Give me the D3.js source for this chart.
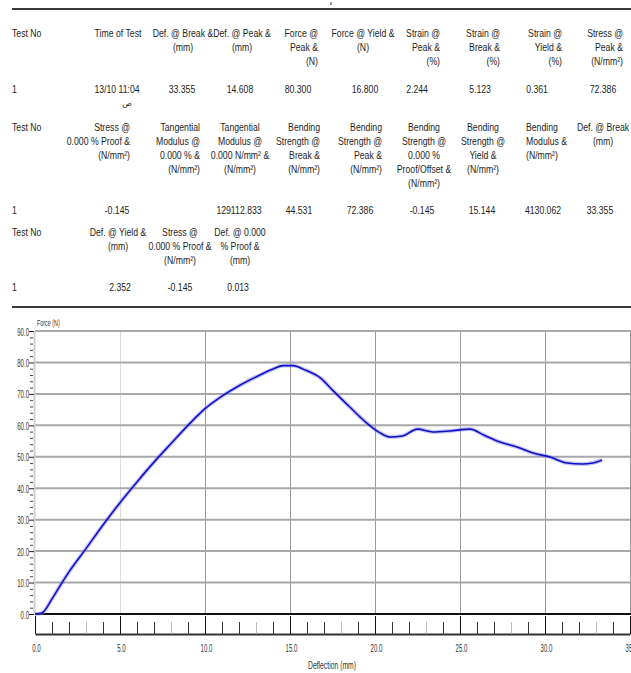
<!DOCTYPE html>
<html>
<head>
<meta charset="utf-8">
<script src="https://cdn.jsdelivr.net/npm/d3@7"></script>
<style>
body { margin: 0; background: #fff; }
text { font-family: "Liberation Sans", Arial, sans-serif; fill: #1e1e1e; }
</style>
</head>
<body>
<div id="chart"></div>
<script>
// results table, three blocks of header lines + one value row each
var block1Headers = [["Test No"], ["Time of Test"], ["Def. @ Break &", "(mm)"], ["Def. @ Peak &", "(mm)"],
  ["Force @", "Peak &", "(N)"], ["Force @ Yield &", "(N)"], ["Strain @", "Peak &", "(%)"],
  ["Strain @", "Break &", "(%)"], ["Strain @", "Yield &", "(%)"], ["Stress @", "Peak &", "(N/mm²)"]]
var block1Values = ["1", "13/10 11:04", "33.355", "14.608", "80.300", "16.800", "2.244", "5.123", "0.361", "72.386"]
var timeSuffix = "ص"

var block2Headers = [["Test No"], ["Stress @", "0.000 % Proof &", "(N/mm²)"], ["Tangential", "Modulus @", "0.000 % &", "(N/mm²)"],
  ["Tangential", "Modulus @", "0.000 N/mm² &", "(N/mm²)"], ["Bending", "Strength @", "Break &", "(N/mm²)"],
  ["Bending", "Strength @", "Peak &", "(N/mm²)"], ["Bending", "Strength @", "0.000 %", "Proof/Offset &", "(N/mm²)"],
  ["Bending", "Strength @", "Yield &", "(N/mm²)"], ["Bending", "Modulus &", "(N/mm²)"], ["Def. @ Break", "(mm)"]]
var block2Values = ["1", "-0.145", "", "129112.833", "44.531", "72.386", "-0.145", "15.144", "4130.062", "33.355"]

var block3Headers = [["Test No"], ["Def. @ Yield &", "(mm)"], ["Stress @", "0.000 % Proof &", "(N/mm²)"], ["Def. @ 0.000", "% Proof &", "(mm)"]]
var block3Values = ["1", "2.352", "-0.145", "0.013"]

// force / deflection curve
var deflection = [0, 0.4, 1.0, 1.5, 2.0, 3.0, 4.0, 5.0, 6.0, 7.0, 8.0, 9.0, 10.0, 11.0, 12.0, 13.0, 14.0, 14.6, 15.2, 15.8,
  16.8, 17.5, 18.5, 19.5, 20.3, 20.9, 21.6, 22.5, 23.4, 24.4, 25.6, 26.4, 27.35, 28.35, 29.3, 30.3, 31.3, 32.2, 32.8, 33.355]
var force = [0, 0.3, 4.8, 9.2, 13.4, 20.8, 28.3, 35.4, 42.0, 48.3, 54.2, 60.0, 65.3, 69.3, 72.6, 75.4, 77.9, 79.0, 79.0, 77.8,
  75.0, 71.2, 65.9, 60.8, 57.6, 56.3, 56.6, 58.8, 57.9, 58.2, 58.8, 56.9, 54.7, 53.1, 51.2, 49.9, 48.0, 47.7, 48.0, 49.0]

var xTicks = [0, 5, 10, 15, 20, 25, 30, 35]
var yTicks = [0, 10, 20, 30, 40, 50, 60, 70, 80, 90]

// layout
var width = 631, height = 673
var squeeze = 0.79
var layout1 = { y: 37, valueY: 93, cols: [[12, "start"], [118, "middle"], [183, "middle"], [242, "middle"], [318, "end"],
  [363, "middle"], [440, "end"], [500, "end"], [562, "end"], [623, "end"]],
  vals: [12, 117, 182, 240, 298, 365, 417, 480, 537, 603] }
var layout2 = { y: 131, valueY: 214, cols: [[12, "start"], [130, "end"], [200, "end"], [240, "middle"], [320, "end"],
  [382, "end"], [424, "middle"], [483, "middle"], [526, "start"], [603, "middle"]],
  vals: [12, 117, 0, 239, 299, 360, 422, 482, 543, 600] }
var layout3 = { y: 236, valueY: 291, cols: [[12, "start"], [118, "middle"], [180, "middle"], [240, "middle"]],
  vals: [12, 120, 180, 238] }

var svg = d3.select("#chart").append("svg")
  .attr("width", width)
  .attr("height", height)

// narrow text: scale horizontally around the anchor point
function narrowText(parent, x, y, anchor) {
  return parent.append("text")
    .attr("transform", "translate(" + x + "," + y + ") scale(" + squeeze + ",1)")
    .attr("text-anchor", anchor)
    .style("font-size", "11px")
}

function drawBlock(headers, values, lay) {
  var g = svg.append("g").attr("class", "block")
  headers.forEach(function(lines, i) {
    var t = narrowText(g, lay.cols[i][0], lay.y, lay.cols[i][1])
    lines.forEach(function(line, k) {
      t.append("tspan").attr("x", 0).attr("y", k * 14).text(line)
    })
  })
  values.forEach(function(v, i) {
    narrowText(g, lay.vals[i], lay.valueY, i == 0 ? "start" : "middle").text(v)
  })
  return g
}

drawBlock(block1Headers, block1Values, layout1)
  .append("text")
    .attr("x", 127).attr("y", 106)
    .attr("text-anchor", "middle")
    .style("font-size", "8px")
    .style("font-family", "'DejaVu Sans', sans-serif")
    .text(timeSuffix)
drawBlock(block2Headers, block2Values, layout2)
drawBlock(block3Headers, block3Values, layout3)

// page rules
svg.append("line").attr("x1", 12).attr("x2", width).attr("y1", 9).attr("y2", 9)
  .attr("stroke", "#3a3a3a").attr("stroke-width", 2)
svg.append("line").attr("x1", 12).attr("x2", width).attr("y1", 307).attr("y2", 307)
  .attr("stroke", "#3a3a3a").attr("stroke-width", 2)
svg.append("line").attr("x1", 331).attr("x2", 331).attr("y1", 2).attr("y2", 5)
  .attr("stroke", "#333").attr("stroke-width", 1)

// chart
var x = d3.scaleLinear().domain([0, 35]).range([35, 630])
var y = d3.scaleLinear().domain([0, 90]).range([614, 331])
var plot = svg.append("g").attr("id", "plot")

// vertical grid
plot.selectAll("line.vgrid")
  .data(xTicks.slice(1))
  .enter().append("line")
    .attr("class", "vgrid")
    .attr("x1", function(d) { return x(d) + 0.5 })
    .attr("x2", function(d) { return x(d) + 0.5 })
    .attr("y1", y(90))
    .attr("y2", y(0))
    .attr("stroke", function(d) { return d == 5 ? "#dcdcdc" : "#9a9a9a" })
    .attr("stroke-width", 1)

// horizontal grid
plot.selectAll("line.hgrid")
  .data(yTicks)
  .enter().append("line")
    .attr("class", "hgrid")
    .attr("x1", 35)
    .attr("x2", width)
    .attr("y1", function(d) { return y(d) })
    .attr("y2", function(d) { return y(d) })
    .attr("stroke", function(d) { return d == 0 ? "#111" : "#a8a8a8" })
    .attr("stroke-width", 2)

// left axis
var yAxis = plot.append("g")
  .attr("transform", "translate(34,0)")
  .call(d3.axisLeft(y).tickValues(yTicks).tickSizeInner(5).tickSizeOuter(0).tickFormat(d3.format(".1f")))
yAxis.select(".domain").attr("stroke", "#cfcfcf").attr("stroke-width", 2)
yAxis.selectAll(".tick line").attr("stroke", "#222")
yAxis.selectAll(".tick text")
  .attr("x", null).attr("dy", null)
  .attr("transform", "translate(-5,4) scale(0.55,1)")
  .style("font-size", "11px")
  .style("fill", "#333")

var yMinor = plot.append("g")
  .attr("transform", "translate(33,0)")
  .call(d3.axisLeft(y).tickValues(d3.range(0, 91, 2).filter(function(d) { return d % 10 })).tickSizeInner(3).tickSizeOuter(0).tickFormat(""))
yMinor.select(".domain").remove()
yMinor.selectAll(".tick line").attr("stroke", "#444")

// bottom axis, ticks point up from the baseline
var xAxis = plot.append("g")
  .attr("transform", "translate(0,634)")
  .call(d3.axisBottom(x).tickValues(xTicks).tickSizeInner(-18).tickSizeOuter(0).tickFormat(d3.format(".1f")))
xAxis.select(".domain").attr("stroke", "#333").attr("stroke-width", 2)
xAxis.selectAll(".tick line").attr("stroke", "#111")
xAxis.selectAll(".tick text")
  .attr("y", null).attr("dy", null)
  .attr("transform", "translate(1,18) scale(0.55,1)")
  .style("font-size", "11px")
  .style("fill", "#333")

var xMinor = plot.append("g")
  .attr("transform", "translate(0,634)")
  .call(d3.axisBottom(x).tickValues(d3.range(1, 35).filter(function(d) { return d % 5 })).tickSizeInner(-12).tickSizeOuter(0).tickFormat(""))
xMinor.select(".domain").remove()
xMinor.selectAll(".tick line").attr("stroke", function(d) { return d % 5 == 3 ? "#bbb" : "#333" })

// curve
var pts = deflection.map(function(d, i) { return [d, force[i]] })
var line = d3.line()
  .x(function(d) { return x(d[0]) })
  .y(function(d) { return y(d[1]) })
  .curve(d3.curveMonotoneX)

plot.append("path")
  .datum(pts)
  .attr("fill", "none")
  .attr("stroke", "#7b7bea")
  .attr("stroke-opacity", 0.45)
  .attr("stroke-width", 4)
  .attr("d", line)
plot.append("path")
  .datum(pts)
  .attr("fill", "none")
  .attr("stroke", "#1010c4")
  .attr("stroke-width", 1.6)
  .attr("d", line)

// axis titles
plot.append("text")
  .attr("transform", "translate(37,326) scale(0.6,1)")
  .style("font-size", "9px")
  .style("fill", "#333")
  .text("Force (N)")
plot.append("text")
  .attr("transform", "translate(332,669) scale(0.62,1)")
  .attr("text-anchor", "middle")
  .style("font-size", "11px")
  .style("fill", "#333")
  .text("Deflection (mm)")
</script>
</body>
</html>
